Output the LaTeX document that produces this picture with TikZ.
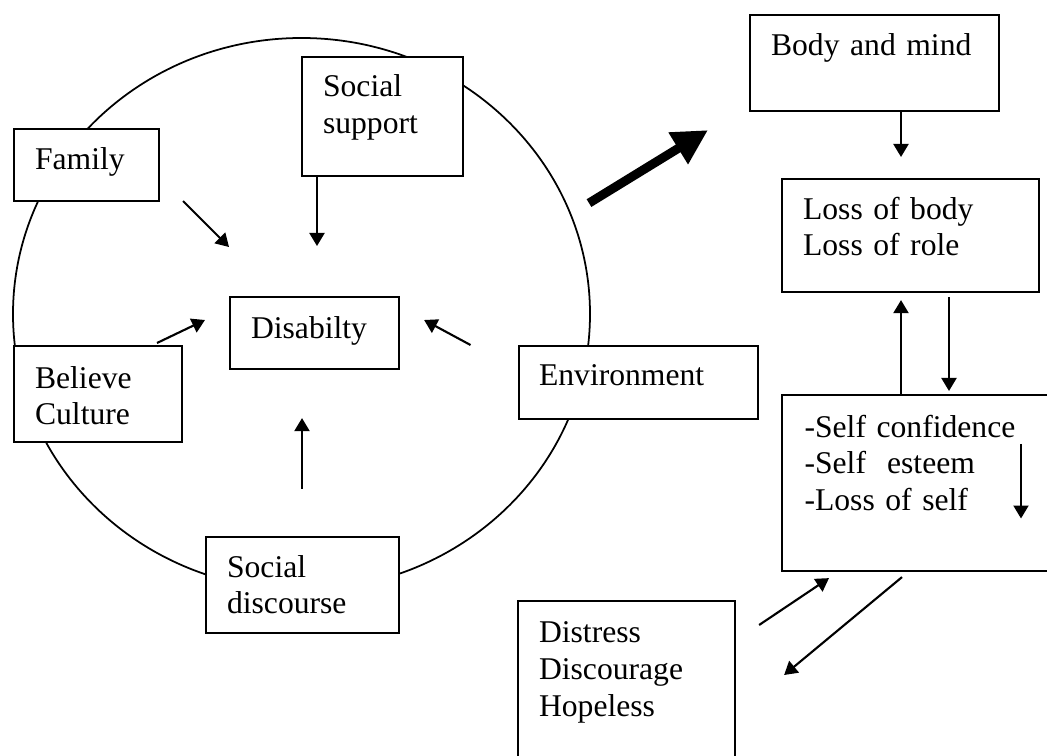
\documentclass[tikz,border=0pt]{standalone}
\usepackage{fontspec}
\setmainfont{Liberation Serif}
\usetikzlibrary{arrows.meta, calc}

\begin{document}
\begin{tikzpicture}[x=0.1mm, y=-0.1mm, >={Triangle[length=1.3mm, width=1.5mm]},
    font=\fontsize{9}{10.5}\selectfont,
    box/.style={draw, fill=white, line width=0.6pt, anchor=north west, align=left, inner ysep=0pt, inner xsep=2.1mm},
    arr/.style={->, line width=0.6pt},
    bigarr/.style={-{Triangle[length=3.5mm, width=3.5mm]}, line width=0.9mm}]
    % Frame
    \useasboundingbox (0,0) rectangle (1047,756);
    \clip (0,0) rectangle (1047,756);

    % Circle
    \draw[line width=0.5pt] (301.5,314) ellipse [x radius=28.85mm, y radius=27.6mm];

    % Boxes on the circle
    \node[box, text width=10.3mm, text height=4mm, text depth=3.2mm] (family) at (13,128) {Family};
    \node[box, text width=11.9mm, text height=3.95mm, text depth=7.95mm] (support) at (301,56) {Social\\support};
    \node[box, text width=12.7mm, text height=4.15mm, text depth=3.05mm] (disab) at (229,296) {Disabilty};
    \node[box, text width=12.6mm, text height=4.2mm, text depth=5.4mm] (belief) at (13,345) {Believe\\Culture};
    \node[box, inner xsep=2mm, text width=19.9mm, text height=3.9mm, text depth=3.4mm] (env) at (518,345) {Environment};
    \node[box, text width=15.1mm, text height=4mm, text depth=5.6mm] (discourse) at (205,536) {Social\\discourse};

    % Boxes on the right
    \node[box, text width=20.7mm, text height=4mm, text depth=5.6mm] (body) at (749,14) {Body and mind};
    \node[box, text width=21.5mm, text height=4mm, text depth=7.3mm] (loss) at (781,178) {Loss of body\\Loss of role};
    \node[box, inner xsep=2.25mm, text width=24.4mm, text height=4.2mm, text depth=13.4mm] (self) at (781,394) {-Self confidence\\-Self~ esteem\\-Loss of self};
    \node[box, text width=17.5mm, text height=4.16mm, text depth=13.84mm] (distress) at (517,600) {Distress\\Discourage\\Hopeless};

    % Arrows into Disabilty
    \draw[arr] ($(family.south east)+(23,-1)$) -- ($(disab.north west)+(0,-49)$);
    \draw[arr] ($(support.south west)+(16,0)$) -- ($(disab.north west)+(88,-50)$);
    \draw[arr] ($(belief.north west)+(144,-2)$) -- ($(disab.north west)+(-24,24)$);
    \draw[arr] ($(env.north west)+(-47.5,0)$) -- ($(disab.north east)+(24,24)$);
    \draw[arr] ($(discourse.north west)+(97,-47.5)$) -- ($(disab.south west)+(73,48)$);

    % Big arrow
    \draw[bigarr] ($(body.south west)+(-160,91)$) -- ($(body.south west)+(-41,18)$);

    % Arrows on the right
    \draw[arr] ($(body.south west)+(152,0)$) -- ($(loss.north west)+(120,-21)$);
    \draw[arr] ($(self.north west)+(120,0)$) -- ($(loss.south west)+(120,7)$);
    \draw[arr] ($(loss.south west)+(168,4)$) -- ($(self.north west)+(168,-3)$);
    \draw[arr] ($(self.north west)+(240,50)$) -- ($(self.north west)+(240,124.5)$);
    \draw[arr] ($(distress.north east)+(23,25)$) -- ($(self.south west)+(48,6)$);
    \draw[arr] ($(self.south west)+(121,5)$) -- ($(distress.north east)+(48,75)$);
\end{tikzpicture}
\end{document}
